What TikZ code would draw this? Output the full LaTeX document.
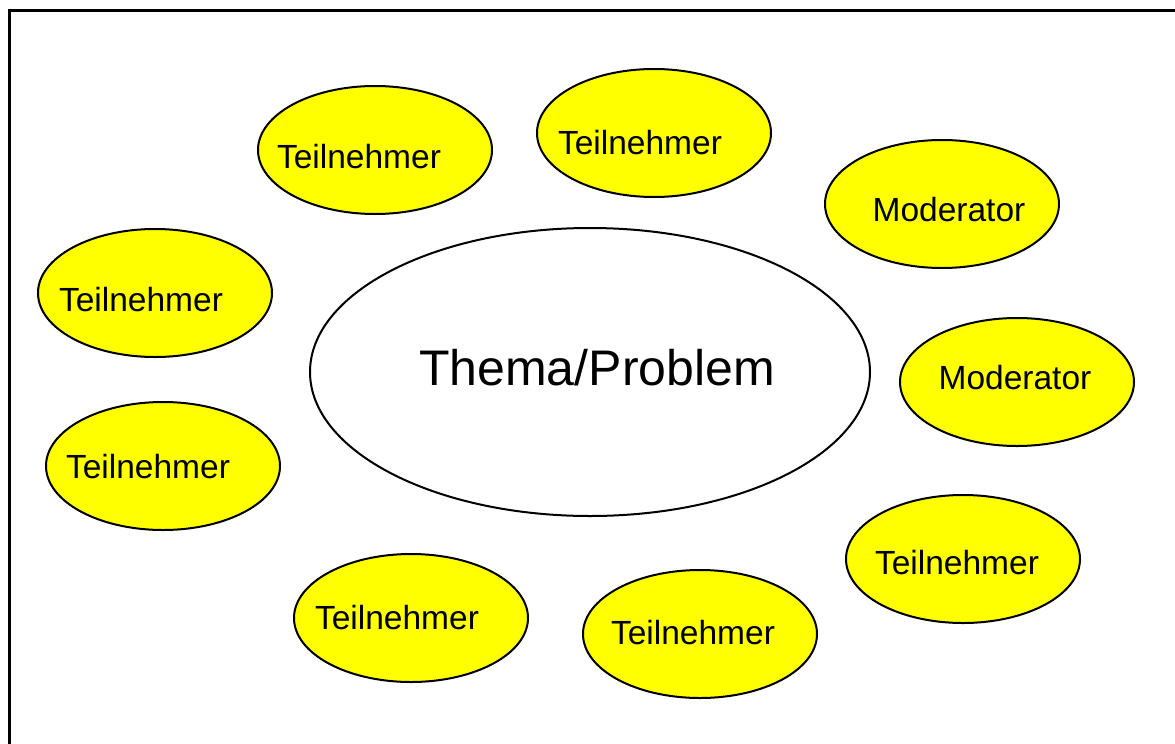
\documentclass[tikz,border=0pt]{standalone}
\usepackage{fontspec}
\setmainfont{Liberation Sans}
\usetikzlibrary{shapes.geometric}
\definecolor{pyellow}{RGB}{255,255,0}
\tikzset{
  part/.style={draw=black, line width=2pt, fill=pyellow, ellipse, inner sep=0pt, minimum width=234pt, minimum height=128pt},
  center/.style={draw=black, line width=2pt, fill=white, ellipse, inner sep=0pt, minimum width=560pt, minimum height=288pt},
  lbl/.style={font=\fontsize{33.5pt}{38pt}\selectfont, inner sep=0pt},
  biglbl/.style={font=\fontsize{50pt}{56pt}\selectfont, inner sep=0pt}
}
\begin{document}
\begin{tikzpicture}[x=1pt,y=-1pt]
\useasboundingbox (0,0) rectangle (1175,744);
\coordinate (fbl) at (9.5,746);
\coordinate (ftl) at (9.5,10.5);
\coordinate (ftr) at (1177,10.5);
\draw[line width=2.4pt] (fbl) -- (ftl) -- (ftr);

\node[center] (thema) at (590,372) {};
\node[biglbl] (themat) at (597,368) {Thema/Problem};

\node[part] (t1) at (375,150) {};
\node[lbl] (t1l) at (359,157) {Teilnehmer};
\node[part] (t2) at (654,133) {};
\node[lbl] (t2l) at (640,143) {Teilnehmer};
\node[part] (m1) at (942,204) {};
\node[lbl] (m1l) at (949,210) {Moderator};
\node[part] (t3) at (155,293) {};
\node[lbl] (t3l) at (141,300) {Teilnehmer};
\node[part] (m2) at (1017,382) {};
\node[lbl] (m2l) at (1015,378) {Moderator};
\node[part] (t4) at (163,466) {};
\node[lbl] (t4l) at (148,467) {Teilnehmer};
\node[part] (t5) at (963,559) {};
\node[lbl] (t5l) at (957,563) {Teilnehmer};
\node[part] (t6) at (411,618) {};
\node[lbl] (t6l) at (397,618) {Teilnehmer};
\node[part] (t7) at (700,634) {};
\node[lbl] (t7l) at (693,633) {Teilnehmer};
\end{tikzpicture}
\end{document}
